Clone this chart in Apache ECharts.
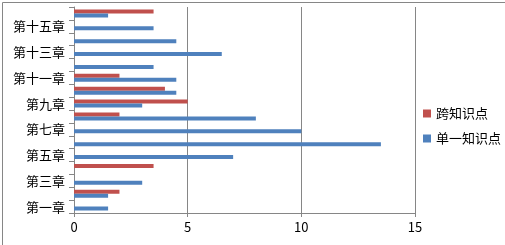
<!DOCTYPE html>
<html>
<head>
<meta charset="utf-8">
<script src="https://cdn.jsdelivr.net/npm/echarts@6/dist/echarts.min.js"></script>
<style>
html,body{margin:0;padding:0;background:#fff;}
#c{width:505px;height:245px;}
</style>
</head>
<body>
<div id="c"></div>
<script>
var categories = ['第一章','第二章','第三章','第四章','第五章','第六章','第七章','第八章','第九章','第十章','第十一章','第十二章','第十三章','第十四章','第十五章','第十六章'];
var single = [1.5, 1.5, 3, 0, 7, 13.5, 10, 8, 3, 4.5, 4.5, 3.5, 6.5, 4.5, 3.5, 1.5];
var cross  = [0, 2, 0, 3.5, 0, 0, 0, 2, 5, 4, 2, 0, 0, 0, 0, 3.5];
var xTicks = [0, 5, 10, 15];
var seriesNames = ['单一知识点', '跨知识点'];

var font = '"Noto Sans CJK SC", "Noto Sans", sans-serif';
var chart = echarts.init(document.getElementById('c'));
chart.setOption({
  animation: false,
  graphic: [{
    type: 'rect', left: 0, top: 0, silent: true,
    shape: {x: 0.5, y: 0.5, width: 503, height: 243},
    style: {fill: 'none', stroke: '#868686', lineWidth: 1}
  }],
  legend: {
    orient: 'vertical',
    left: 418, top: 102,
    itemWidth: 8, itemHeight: 8, itemGap: 12,
    icon: 'rect',
    data: [seriesNames[1], seriesNames[0]],
    textStyle: {fontFamily: font, fontSize: 13, color: '#000'}
  },
  grid: {left: 74, top: 7, right: 90, bottom: 32, containLabel: false},
  xAxis: {
    type: 'value', min: xTicks[0], max: xTicks[xTicks.length - 1], interval: 5,
    axisLine: {show: true, lineStyle: {color: '#868686'}},
    axisTick: {show: true, length: 4, lineStyle: {color: '#868686'}},
    splitLine: {show: true, lineStyle: {color: '#868686', width: 1}},
    axisLabel: {fontFamily: font, fontSize: 13, color: '#000', margin: 8}
  },
  yAxis: {
    type: 'category', data: categories,
    axisLine: {show: true, lineStyle: {color: '#868686'}},
    axisTick: {show: true, length: 5, interval: 0, alignWithLabel: false, lineStyle: {color: '#868686'}},
    axisLabel: {interval: 1, fontFamily: font, fontSize: 13, color: '#000', margin: 9}
  },
  series: [
    {name: seriesNames[1], type: 'bar', data: cross, barWidth: 4, barGap: '0%', itemStyle: {color: '#C0504D'}},
    {name: seriesNames[0], type: 'bar', data: single, barWidth: 4, barGap: '0%', itemStyle: {color: '#4F81BD'}}
  ]
});
</script>
</body>
</html>
